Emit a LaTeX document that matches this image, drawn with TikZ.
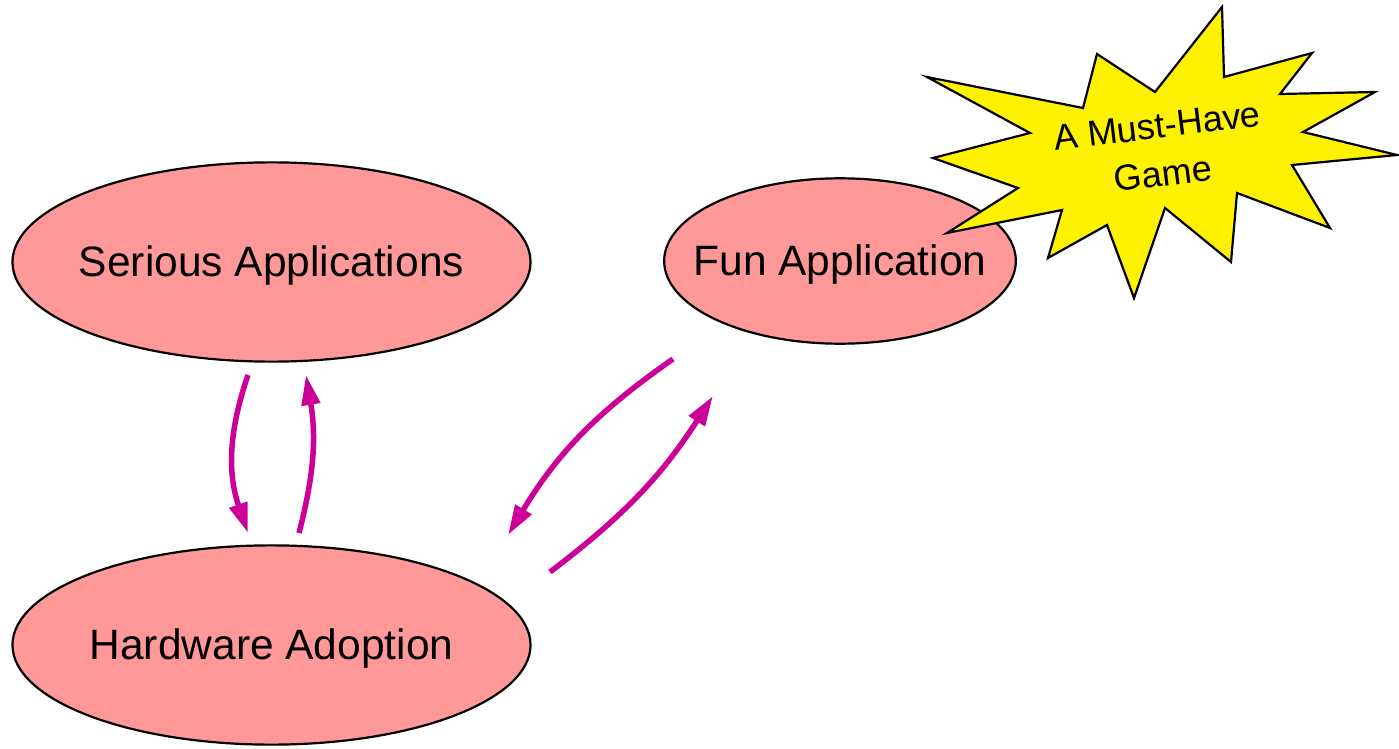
\documentclass[tikz,border=0pt]{standalone}
\usepackage{fontspec}
\setmainfont{Liberation Sans}
\usepackage{xcolor}
\usepackage{tikz}
\usetikzlibrary{shapes.geometric,arrows.meta}
\definecolor{salmon}{RGB}{255,153,153}
\definecolor{loopmag}{RGB}{204,0,153}

\begin{document}
\begin{tikzpicture}[x=1bp,y=-1bp,
    bubble/.style={ellipse, draw=black, line width=2.2bp, fill=salmon, inner sep=0pt},
    every label/.style={font=\fontsize{42.5bp}{50bp}\selectfont, yshift=-4bp},
    feed/.style={draw=loopmag, line width=5.5bp, -{Triangle[length=30bp,width=18bp]}},
    burst/.style={draw=black, line width=2.2bp, fill=yellow, line join=miter}]
    \useasboundingbox (0,0) rectangle (1399,748);
    \def\rx{260};
    \def\ry{100};
    \node[bubble, minimum width=2*\rx, minimum height=2*\ry, label=center:{Serious Applications}] (sa) at (271.5,262) {};
    \node[bubble, minimum width=2*\rx, minimum height=2*\ry, label=center:{Hardware Adoption}] (hw) at (271.5,645) {};
    \node[bubble, minimum width=353, minimum height=166, label=center:{Fun Application}] (fa) at (840,261) {};

    % arrow ends %
    \coordinate (sa-out) at (248,375);
    \coordinate (hw-in) at (248,533);
    \coordinate (hw-out) at (299,533);
    \coordinate (sa-in) at (306,375);
    \coordinate (fa-out) at (673,359);
    \coordinate (hw-in2) at (508,535);
    \coordinate (hw-out2) at (550,572);
    \coordinate (fa-in) at (713,396);

    \draw[feed] (sa-out) to[bend right=19] (hw-in);
    \draw[feed] (hw-out) to[bend right=12] (sa-in);
    \draw[feed] (fa-out) to[bend right=12] (hw-in2);
    \draw[feed] (hw-out2) to[bend right=10] (fa-in);

    % the must-have burst %
    \draw[burst] (1222,7) -- (1224,77) -- (1312,53) -- (1280,94) -- (1375,92) -- (1303,132)
      -- (1397,155) -- (1292,165) -- (1330,228) -- (1237,193) -- (1231,262) -- (1165,208)
      -- (1134,298) -- (1107,225) -- (1048,258) -- (1062,210) -- (947,233) -- (1018,188)
      -- (933,158) -- (1030,133) -- (927,77) -- (1083,108) -- (1097,54) -- (1155,92) -- cycle;
    \node[rotate=7, align=center, font=\fontsize{36bp}{48bp}\selectfont] (game) at (1160,150) {A Must-Have\\Game};
\end{tikzpicture}
\end{document}
